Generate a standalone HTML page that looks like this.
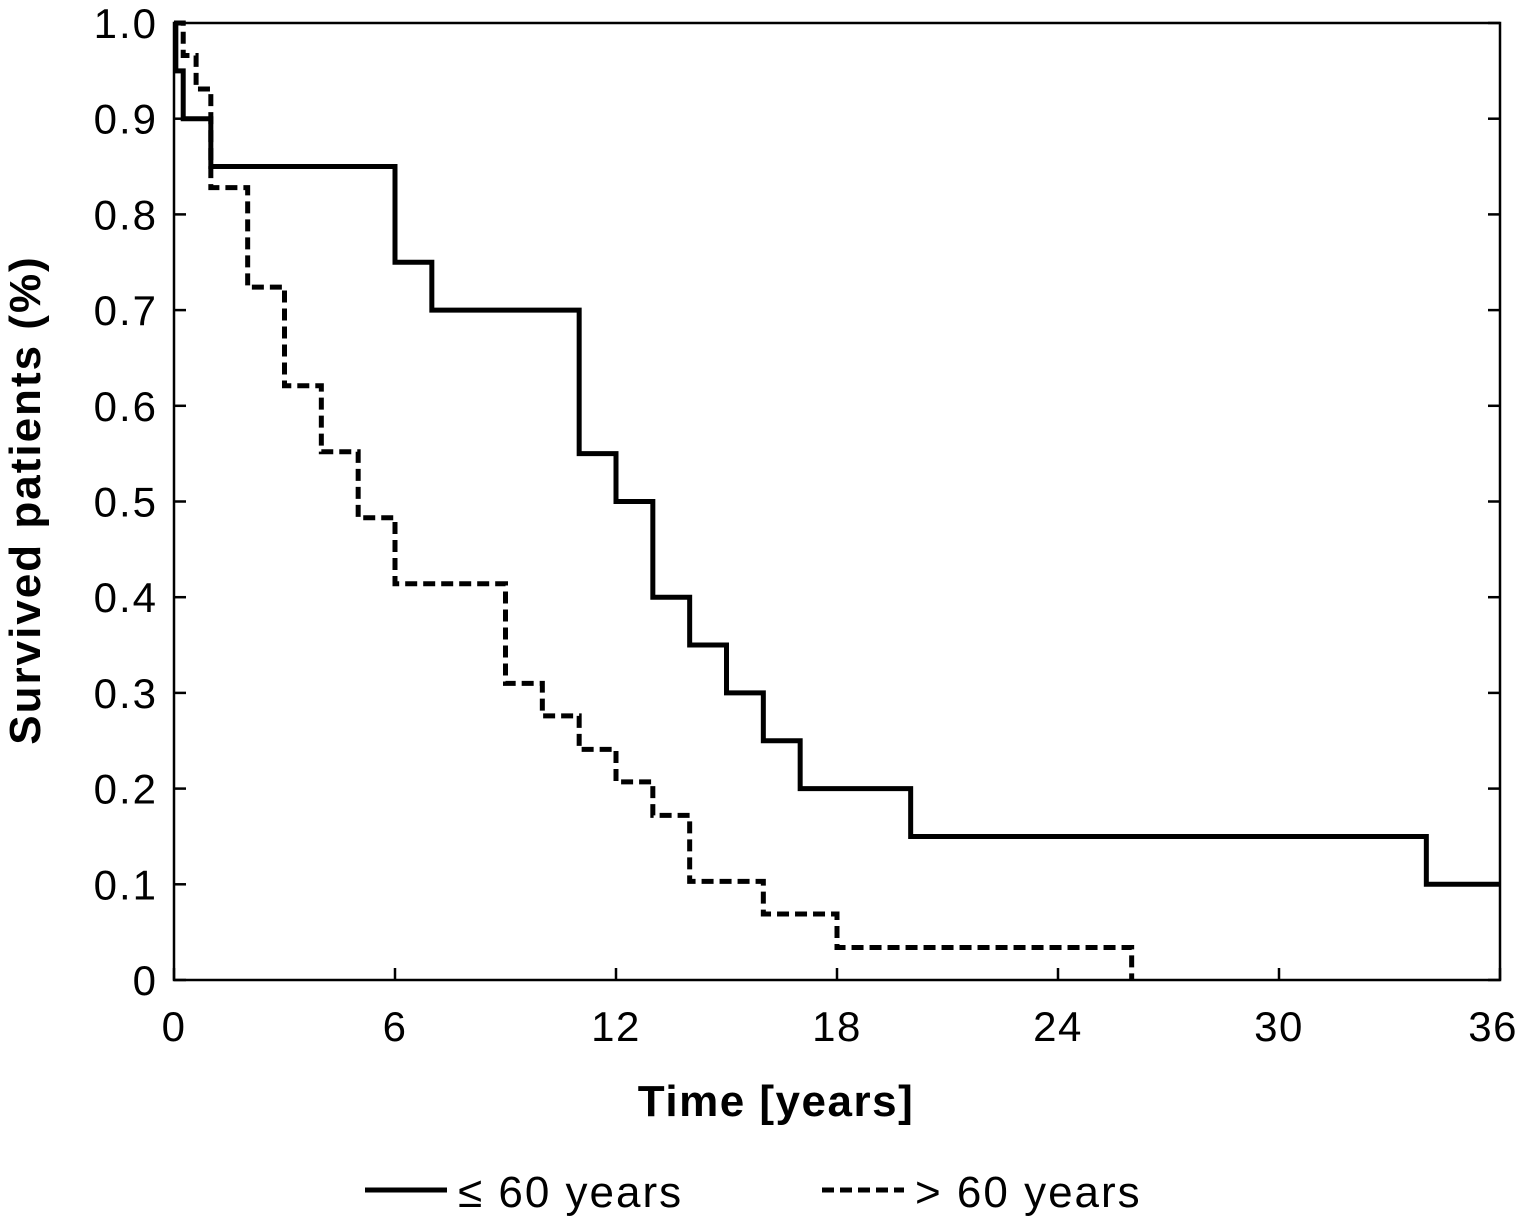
<!DOCTYPE html>
<html><head><meta charset="utf-8"><style>
html,body{margin:0;padding:0;background:#fff;}
svg{display:block;font-family:"Liberation Sans",sans-serif;}
</style></head><body>
<svg id="chart" width="1520" height="1221" viewBox="0 0 1520 1221">
<g id="ticks"></g>
<g id="series"></g>
<rect x="174" y="23" width="1326" height="957" fill="none" stroke="#000" stroke-width="2.5"/>
<text x="40" y="500" transform="rotate(-90 40 500)" text-anchor="middle" font-size="44" font-weight="bold" letter-spacing="2">Survived patients (%)</text>
<text x="776" y="1116" text-anchor="middle" font-size="44" font-weight="bold" letter-spacing="1.5">Time [years]</text>
<g>
<line x1="365" y1="1190" x2="447" y2="1190" stroke="#000" stroke-width="5"/>
<text x="458" y="1207" font-size="44" letter-spacing="2">≤ 60 years</text>
<line x1="822" y1="1190" x2="904" y2="1190" stroke="#000" stroke-width="5" stroke-dasharray="12 6"/>
<text x="915" y="1207" font-size="44" letter-spacing="2">&gt; 60 years</text>
</g>
</svg>
<script>
const xTicks=[0,6,12,18,24,30,36];
const yTicks=[0,0.1,0.2,0.3,0.4,0.5,0.6,0.7,0.8,0.9,1.0];
const yTickLabels=["0","0.1","0.2","0.3","0.4","0.5","0.6","0.7","0.8","0.9","1.0"];
const youngTimes=[0,0.05,0.25,1,6,7,11,12,13,14,15,16,17,20,34,36];
const youngSurv=[1.0,0.95,0.9,0.85,0.75,0.70,0.55,0.5,0.4,0.35,0.3,0.25,0.2,0.15,0.1,0.1];
const oldTimes=[0,0.25,0.6,1,2,3,4,5,6,9,10,11,12,13,14,16,18,26];
const oldSurv=[1.0,0.966,0.931,0.828,0.724,0.621,0.552,0.483,0.414,0.310,0.276,0.241,0.207,0.172,0.103,0.069,0.034,0];
const NS="http://www.w3.org/2000/svg";
const X=t=>174+t*(1326/36), Y=v=>980-v*957;
const tg=document.getElementById('ticks');
function mk(tag,attrs){const e=document.createElementNS(NS,tag);for(const k in attrs)e.setAttribute(k,attrs[k]);return e;}
const xMax=xTicks[xTicks.length-1];
xTicks.forEach(t=>{
 const l1=mk('line',{x1:X(t),x2:X(t),y1:980,y2:968,stroke:'#000','stroke-width':2.5});
 
 
 tg.appendChild(l1);
 const last=(t===xMax);
 const tx=mk('text',{x:last?1518:X(t),y:1041,'text-anchor':last?'end':'middle','font-size':42,'letter-spacing':1.5});
 tx.textContent=t;
 
 
 tg.appendChild(tx);
});
yTicks.forEach((v,i)=>{
 const l1=mk('line',{x1:174,x2:186,y1:Y(v),y2:Y(v),stroke:'#000','stroke-width':2.5});
 
 
 tg.appendChild(l1);
 const l2=mk('line',{x1:1488,x2:1500,y1:Y(v),y2:Y(v),stroke:'#000','stroke-width':2.5});
 
 
 tg.appendChild(l2);
 const tx=mk('text',{x:158,y:Y(v)+15,'text-anchor':'end','font-size':42,'letter-spacing':2});
 tx.textContent=yTickLabels[i];
 
 
 tg.appendChild(tx);
});
function step(times,surv){
 let d='M'+X(times[0])+' '+Y(surv[0]);
 for(let i=1;i<times.length;i++){d+=' H'+X(times[i])+' V'+Y(surv[i]);}
 return d;
}
const sg=document.getElementById('series');
const p1=mk('path',{d:step(youngTimes,youngSurv),fill:'none',stroke:'#000','stroke-width':5});


sg.appendChild(p1);
const p2=mk('path',{d:step(oldTimes,oldSurv),fill:'none',stroke:'#000','stroke-width':5,'stroke-dasharray':'12 6'});


sg.appendChild(p2);
</script>
</body></html>
